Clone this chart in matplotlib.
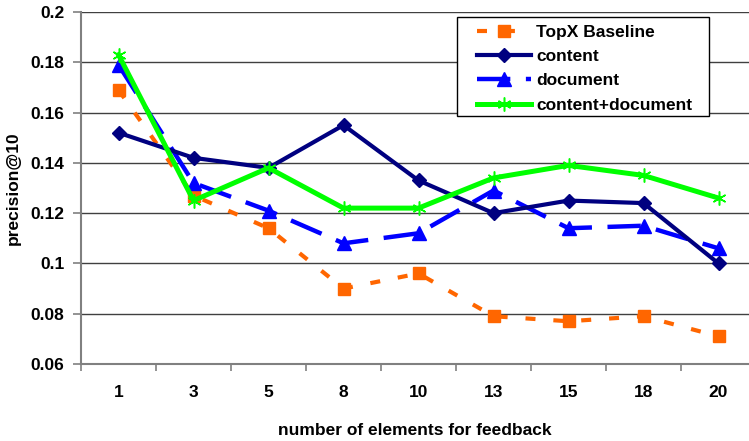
import matplotlib.pyplot as plt
from matplotlib.patches import Rectangle
from matplotlib.ticker import FixedLocator, NullFormatter

plt.rcParams["font.family"] = ["Liberation Sans", "DejaVu Sans"]
plt.rcParams["font.weight"] = "bold"

categories = ["1", "3", "5", "8", "10", "13", "15", "18", "20"]
topx_baseline = [0.169, 0.127, 0.114, 0.090, 0.096, 0.079, 0.077, 0.079, 0.071]
content = [0.152, 0.142, 0.138, 0.155, 0.133, 0.120, 0.125, 0.124, 0.100]
document = [0.179, 0.132, 0.121, 0.108, 0.112, 0.129, 0.114, 0.115, 0.106]
content_document = [0.183, 0.125, 0.138, 0.122, 0.122, 0.134, 0.139, 0.135, 0.126]
y_ticks = [0.06, 0.08, 0.1, 0.12, 0.14, 0.16, 0.18, 0.2]
y_labels = ["0.06", "0.08", "0.1", "0.12", "0.14", "0.16", "0.18", "0.2"]

FS = 12.5

fig = plt.figure(figsize=(7.49, 4.41), dpi=100)
ax = fig.add_axes([81 / 749, 77 / 441, 1 - 81 / 749, (364 - 12) / 441])

x = list(range(len(categories)))

ax.plot(x, topx_baseline, color="#FF6600", lw=3, dashes=(2.4, 4.3),
        marker="s", ms=9, label="TopX Baseline", zorder=3)
ax.plot(x, content, color="#000080", lw=3, marker="D", ms=7.5,
        label="content", zorder=4)
ax.plot(x, document, color="#0000FF", lw=3.2, dashes=(7.5, 3.5),
        marker="^", ms=10, label="document", zorder=3)
ax.plot(x, content_document, color="#00FF00", lw=3.6, marker=(6, 2, 0),
        ms=10, mew=1.1, label="content+document", zorder=5)

ax.set_xlim(-0.5, -0.5 + 668 / 75)
ax.set_ylim(0.06, 0.2)

ax.set_yticks(y_ticks)
ax.set_yticklabels(y_labels, fontsize=FS, fontweight="bold")
ax.yaxis.grid(True, color="#404040", lw=1.0)
ax.set_axisbelow(True)

ax.xaxis.set_major_locator(FixedLocator([i - 0.5 for i in range(len(categories) + 1)]))
ax.xaxis.set_major_formatter(NullFormatter())
ax.xaxis.set_minor_locator(FixedLocator(x))
ax.set_xticklabels(categories, minor=True, fontsize=FS, fontweight="bold")
ax.tick_params(axis="x", which="major", length=5, width=1.2, color="#808080", direction="out")
ax.tick_params(axis="x", which="minor", length=0, pad=15)
ax.tick_params(axis="y", length=6, width=1.2, color="#808080", pad=6)

for side in ["top", "right"]:
    ax.spines[side].set_visible(False)
for side in ["left", "bottom"]:
    ax.spines[side].set_color("#808080")
    ax.spines[side].set_linewidth(1.5)

ax.set_xlabel("number of elements for feedback", fontsize=FS, fontweight="bold", labelpad=17)
ax.set_ylabel("precision@10", fontsize=FS, fontweight="bold", labelpad=7)

# legend box drawn separately so the inner padding can match the original
ax.add_patch(Rectangle(((457 - 81) / 668, (364 - 116) / 352), 252 / 668, 99 / 352,
                       transform=ax.transAxes, facecolor="white", edgecolor="black",
                       lw=1.0, zorder=6, clip_on=False))
leg = ax.legend(loc="upper left", bbox_to_anchor=((477 - 81) / 668, (364 - 24.5) / 352),
                fontsize=FS, frameon=False, handlelength=3.1, handletextpad=0.3,
                borderpad=0, labelspacing=0.53, borderaxespad=0)
leg.set_zorder(7)
for text in leg.get_texts():
    text.set_fontweight("bold")

fig.savefig("out.png", dpi=100)
